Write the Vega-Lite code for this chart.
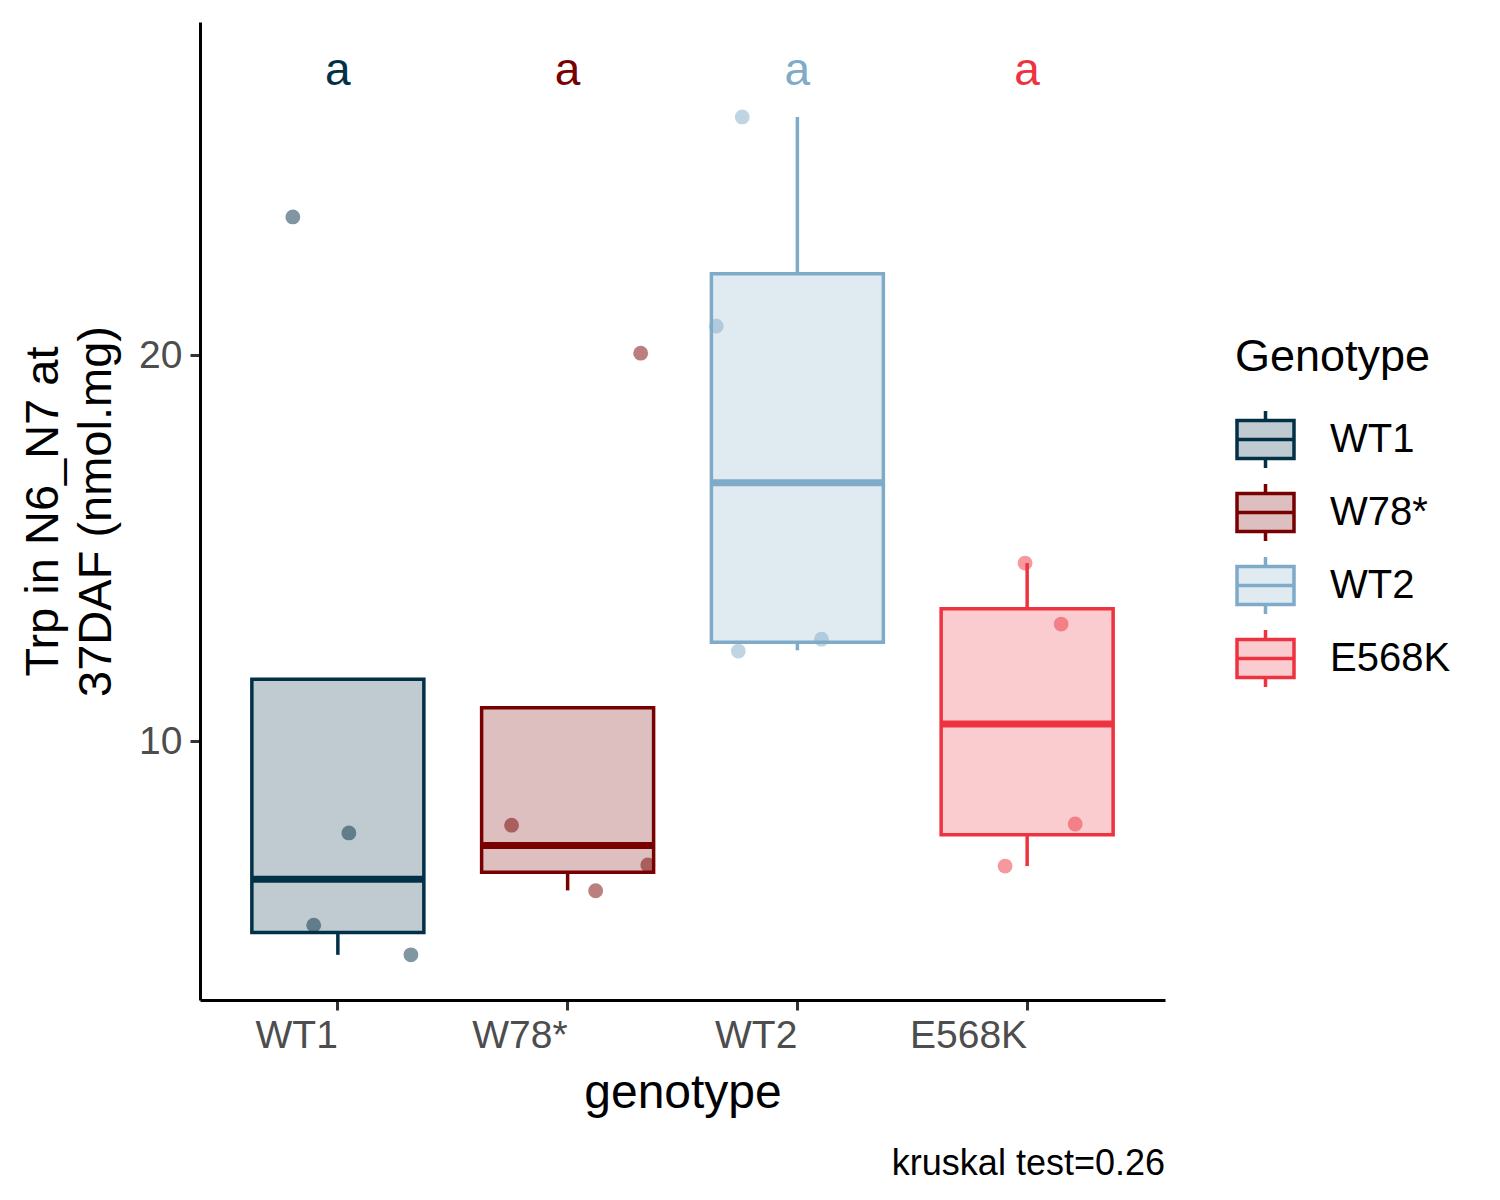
{
  "$schema": "https://vega.github.io/schema/vega-lite/v6.json",
  "description": "Trp in N6_N7 at 37DAF by genotype, boxplot with jittered points",
  "width": 965,
  "height": 978,
  "autosize": {"type": "none"},
  "padding": {"left": 200, "top": 22, "right": 335, "bottom": 200},
  "background": "white",
  "title": {
    "text": "kruskal test=0.26",
    "orient": "bottom",
    "anchor": "end",
    "frame": "group",
    "fontSize": 36,
    "fontWeight": "normal",
    "color": "black",
    "offset": 30
  },
  "config": {
    "font": "Liberation Sans",
    "view": {"stroke": null},
    "axis": {
      "grid": false,
      "domainColor": "black",
      "domainWidth": 3,
      "tickColor": "#333333",
      "tickWidth": 3,
      "tickSize": 10,
      "labelColor": "#4D4D4D",
      "labelFontSize": 39,
      "titleFontSize": 48,
      "titleFontWeight": "normal",
      "titleColor": "black"
    }
  },
  "datasets": {
    "box": [
      {"genotype": "WT1", "lower": 4.46, "q1": 5.04, "median": 6.42, "q3": 11.6, "upper": 11.6},
      {"genotype": "W78*", "lower": 6.13, "q1": 6.6, "median": 7.29, "q3": 10.86, "upper": 10.86},
      {"genotype": "WT2", "lower": 12.35, "q1": 12.56, "median": 16.69, "q3": 22.11, "upper": 26.17},
      {"genotype": "E568K", "lower": 6.76, "q1": 7.57, "median": 10.44, "q3": 13.43, "upper": 14.61}
    ],
    "pts": [
      {"genotype": "WT1", "value": 23.58, "jitter": -0.196},
      {"genotype": "WT1", "value": 7.62, "jitter": 0.048},
      {"genotype": "WT1", "value": 5.23, "jitter": -0.105},
      {"genotype": "WT1", "value": 4.46, "jitter": 0.318},
      {"genotype": "W78*", "value": 20.05, "jitter": 0.318},
      {"genotype": "W78*", "value": 7.82, "jitter": -0.244},
      {"genotype": "W78*", "value": 6.79, "jitter": 0.349},
      {"genotype": "W78*", "value": 6.12, "jitter": 0.122},
      {"genotype": "WT2", "value": 26.17, "jitter": -0.24},
      {"genotype": "WT2", "value": 20.75, "jitter": -0.353},
      {"genotype": "WT2", "value": 12.64, "jitter": 0.105},
      {"genotype": "WT2", "value": 12.33, "jitter": -0.257},
      {"genotype": "E568K", "value": 14.61, "jitter": -0.009},
      {"genotype": "E568K", "value": 13.03, "jitter": 0.148},
      {"genotype": "E568K", "value": 7.85, "jitter": 0.209},
      {"genotype": "E568K", "value": 6.76, "jitter": -0.096}
    ]
  },
  "encoding": {
    "x": {
      "field": "genotype",
      "type": "nominal",
      "sort": ["WT1", "W78*", "WT2", "E568K"],
      "scale": {"type": "band", "paddingInner": 0, "paddingOuter": 0.1},
      "axis": {"labelAngle": 0, "labelAlign": "right", "labelPadding": 6, "titlePadding": 14},
      "title": "genotype"
    },
    "y": {
      "type": "quantitative",
      "scale": {"domain": [3.29, 28.63], "nice": false, "zero": false},
      "axis": {"values": [10, 20], "labelPadding": 8, "titlePadding": 18, "titleLineHeight": 53, "titleFontSize": 47},
      "title": ["Trp in N6_N7 at", "37DAF (nmol.mg)"]
    }
  },
  "layer": [
    {
      "data": {"name": "box"},
      "mark": {"type": "rule", "strokeWidth": 3.5},
      "encoding": {
        "y": {"field": "lower", "type": "quantitative"},
        "y2": {"field": "q1"},
        "color": {
          "field": "genotype",
          "type": "nominal",
          "title": "Genotype",
          "scale": {"domain": ["WT1", "W78*", "WT2", "E568K"], "range": ["#023047", "#780000", "#7FABC9", "#EE3340"]}
        }
      }
    },
    {
      "data": {"name": "box"},
      "mark": {"type": "rule", "strokeWidth": 3.5},
      "encoding": {
        "y": {"field": "q3", "type": "quantitative"},
        "y2": {"field": "upper"},
        "color": {"field": "genotype", "type": "nominal", "title": "Genotype"}
      }
    },
    {
      "data": {"name": "box"},
      "mark": {"type": "bar", "width": 172, "fillOpacity": 0.25, "strokeWidth": 3.5},
      "encoding": {
        "y": {"field": "q1", "type": "quantitative"},
        "y2": {"field": "q3"},
        "fill": {
          "field": "genotype",
          "type": "nominal",
          "title": "Genotype",
          "scale": {"domain": ["WT1", "W78*", "WT2", "E568K"], "range": ["#023047", "#780000", "#7FABC9", "#EE3340"]},
          "legend": {
            "title": "Genotype",
            "orient": "none",
            "legendX": 1035,
            "legendY": 313,
            "symbolType": "M-1,-0.67H1V0.67H-1Z M-1,0H1 M0,-0.67V-1 M0,0.67V1",
            "symbolSize": 3249,
            "titleFontSize": 45,
            "titleFontWeight": "normal",
            "titleColor": "black",
            "titleLimit": 0,
            "labelFontSize": 40,
            "labelColor": "black",
            "labelLimit": 0,
            "labelOffset": 34,
            "rowPadding": 2,
            "titlePadding": 29,
            "encode": {
              "symbols": {
                "update": {
                  "fill": {"scale": "fill", "field": "value"},
                  "fillOpacity": {"value": 0.25},
                  "stroke": {"scale": "fill", "field": "value"},
                  "strokeWidth": {"value": 3.5},
                  "opacity": {"value": 1}
                }
              }
            }
          }
        },
        "stroke": {
          "field": "genotype",
          "type": "nominal",
          "title": "Genotype",
          "scale": {"domain": ["WT1", "W78*", "WT2", "E568K"], "range": ["#023047", "#780000", "#7FABC9", "#EE3340"]}
        }
      }
    },
    {
      "data": {"name": "box"},
      "mark": {"type": "tick", "orient": "horizontal", "size": 172, "thickness": 7, "opacity": 1},
      "encoding": {
        "y": {"field": "median", "type": "quantitative"},
        "color": {"field": "genotype", "type": "nominal", "title": "Genotype"}
      }
    },
    {
      "data": {"name": "pts"},
      "mark": {"type": "circle", "size": 220, "opacity": 0.5},
      "encoding": {
        "x": {"field": "genotype", "type": "nominal", "sort": ["WT1", "W78*", "WT2", "E568K"], "bandPosition": 0},
        "xOffset": {"field": "jitter", "type": "quantitative", "scale": {"domain": [-0.5, 0.5], "zero": false}},
        "y": {"field": "value", "type": "quantitative"},
        "color": {"field": "genotype", "type": "nominal", "title": "Genotype"}
      }
    },
    {
      "data": {"name": "box"},
      "mark": {"type": "text", "text": "a", "fontSize": 46, "baseline": "alphabetic", "align": "center"},
      "encoding": {
        "y": {"datum": 27.0},
        "color": {"field": "genotype", "type": "nominal", "title": "Genotype"}
      }
    }
  ]
}
